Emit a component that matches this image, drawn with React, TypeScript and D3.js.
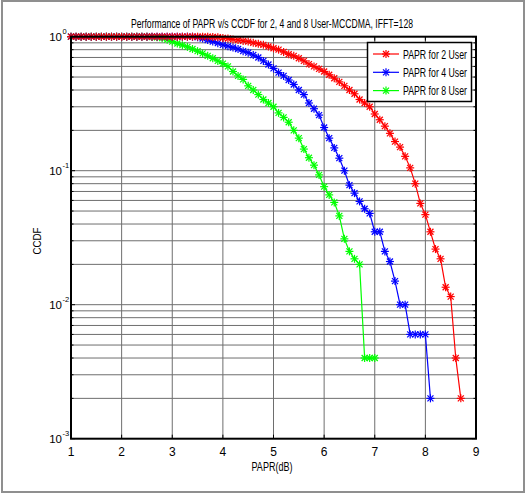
import React, { useLayoutEffect, useRef, useState } from "react";
import * as d3 from "d3";

const W = 528;
const H = 494;

const titleText = "Performance of PAPR v/s CCDF for 2, 4 and 8 User-MCCDMA, IFFT=128";
const xLabel = "PAPR(dB)";
const yLabel = "CCDF";
const xTicks = [1, 2, 3, 4, 5, 6, 7, 8, 9];
const yDecades = [0, -1, -2, -3];

const paprDb = [
  1.0, 1.1, 1.2, 1.3, 1.4, 1.5, 1.6, 1.7, 1.8, 1.9,
  2.0, 2.1, 2.2, 2.3, 2.4, 2.5, 2.6, 2.7, 2.8, 2.9,
  3.0, 3.1, 3.2, 3.3, 3.4, 3.5, 3.6, 3.7, 3.8, 3.9,
  4.0, 4.1, 4.2, 4.3, 4.4, 4.5, 4.6, 4.7, 4.8, 4.9,
  5.0, 5.1, 5.2, 5.3, 5.4, 5.5, 5.6, 5.7, 5.8, 5.9,
  6.0, 6.1, 6.2, 6.3, 6.4, 6.5, 6.6, 6.7, 6.8, 6.9,
  7.0, 7.1, 7.2, 7.3, 7.4, 7.5, 7.6, 7.7, 7.8, 7.9,
  8.0, 8.1, 8.2, 8.3, 8.4, 8.5, 8.6, 8.7,
];

const ccdf2User = [
  1, 1, 1, 1, 1, 1, 1, 1, 1, 1,
  1, 1, 1, 1, 1, 1, 1, 1, 1, 1,
  1, 1, 1, 1, 1, 1, 1, 1, 0.995, 0.99,
  0.98, 0.97, 0.955, 0.945, 0.93, 0.92, 0.9, 0.885, 0.87, 0.845,
  0.82, 0.8, 0.77, 0.74, 0.72, 0.69, 0.66, 0.625, 0.6, 0.575,
  0.55, 0.52, 0.49, 0.46, 0.43, 0.4, 0.375, 0.34, 0.32, 0.3,
  0.265, 0.24, 0.215, 0.19, 0.165, 0.15, 0.128, 0.105, 0.08, 0.057,
  0.047, 0.035, 0.026, 0.022, 0.0135, 0.0115, 0.004, 0.002,
];

const ccdf4User = [
  1, 1, 1, 1, 1, 1, 1, 1, 1, 1,
  1, 1, 1, 1, 1, 1, 1, 1, 1, 1,
  1, 1, 1, 1, 1, 0.99, 0.97, 0.945, 0.92, 0.895,
  0.87, 0.85, 0.83, 0.81, 0.78, 0.76, 0.73, 0.7, 0.66, 0.62,
  0.58, 0.54, 0.51, 0.475, 0.44, 0.4, 0.37, 0.32, 0.29, 0.26,
  0.21, 0.175, 0.148, 0.124, 0.1, 0.078, 0.068, 0.059, 0.052, 0.048,
  0.035, 0.035, 0.025, 0.021, 0.015, 0.01, 0.01, 0.006, 0.006, 0.006,
  0.006, 0.002,
];

const ccdf8User = [
  1, 1, 1, 1, 1, 1, 1, 1, 1, 1,
  1, 1, 1, 1, 1, 1, 0.995, 0.99, 0.975, 0.95,
  0.92, 0.89, 0.865, 0.84, 0.81, 0.78, 0.75, 0.72, 0.69, 0.66,
  0.63, 0.6, 0.55, 0.51, 0.48, 0.43, 0.4, 0.37, 0.34, 0.32,
  0.3, 0.27, 0.25, 0.23, 0.2, 0.175, 0.145, 0.125, 0.11, 0.093,
  0.076, 0.066, 0.058, 0.046, 0.031, 0.025, 0.022, 0.02, 0.004, 0.004,
  0.004,
];

const seriesNames = ["PAPR for 2 User", "PAPR for 4 User", "PAPR for 8 User"];
const seriesColors = ["#ff0000", "#0000ff", "#00ff00"];
const seriesValues = [ccdf2User, ccdf4User, ccdf8User];

const FONT = "'Liberation Sans', Arial, sans-serif";

const left = 71;
const right = 476;
const top = 36.7;
const bottom = 438.7;

function Star({ cx, cy, color, r = 4 }: { cx: number; cy: number; color: string; r?: number }) {
  const d = r * 0.75;
  return (
    <g stroke={color} strokeWidth={1.2}>
      <line x1={cx - r} y1={cy} x2={cx + r} y2={cy} />
      <line x1={cx} y1={cy - r} x2={cx} y2={cy + r} />
      <line x1={cx - d} y1={cy - d} x2={cx + d} y2={cy + d} />
      <line x1={cx - d} y1={cy + d} x2={cx + d} y2={cy - d} />
    </g>
  );
}

// Text horizontally condensed to a target width by a measured scale transform
function NarrowText({
  x,
  y,
  width,
  fontSize,
  anchor = "start",
  rotate = 0,
  children,
}: {
  x: number;
  y: number;
  width: number;
  fontSize: number;
  anchor?: "start" | "middle" | "end";
  rotate?: number;
  children: string;
}) {
  const ref = useRef<SVGTextElement>(null);
  const [s, setS] = useState(0.82);
  useLayoutEffect(() => {
    if (ref.current) {
      const len = ref.current.getComputedTextLength();
      if (len > 0) setS(width / len);
    }
  }, [width, children, fontSize]);
  return (
    <g transform={`translate(${x},${y}) rotate(${rotate}) scale(${s},1)`}>
      <text ref={ref} x={0} y={0} fontSize={fontSize} textAnchor={anchor} fill="#000">
        {children}
      </text>
    </g>
  );
}

export default function App() {
  const x = d3.scaleLinear().domain([1, 9]).range([left, right]);
  const y = d3.scaleLog().domain([1e-3, 1]).range([bottom, top]);

  const minorVals: number[] = [];
  for (let e = -3; e < 0; e++) {
    for (let m = 2; m <= 9; m++) minorVals.push(m * Math.pow(10, e));
  }
  const majorVals = yDecades.map((e) => Math.pow(10, e));

  const line = d3
    .line<[number, number]>()
    .x((d) => x(d[0]))
    .y((d) => y(d[1]));

  const gridColor = "#6e6e6e";

  return (
    <svg
      width={W}
      height={H}
      style={{ position: "absolute", left: 0, top: 0, background: "#fff" }}
      fontFamily={FONT}
    >
      <rect x={0} y={0} width={W} height={H} fill="#fff" />
      <rect x={2} y={1} width={522} height={491} fill="none" stroke="#8f8f8f" strokeWidth={2} />

      {/* grid */}
      <g stroke={gridColor} strokeWidth={1}>
        {xTicks.slice(1, -1).map((t) => (
          <line key={"gx" + t} x1={x(t)} x2={x(t)} y1={top} y2={bottom} />
        ))}
        {[...majorVals.slice(1, -1), ...minorVals].map((v, i) => (
          <line key={"gy" + i} x1={left} x2={right} y1={y(v)} y2={y(v)} />
        ))}
      </g>

      {/* ticks */}
      <g stroke="#000" strokeWidth={1}>
        {xTicks.map((t) => (
          <g key={"tx" + t}>
            <line x1={x(t)} x2={x(t)} y1={bottom} y2={bottom - 4} />
            <line x1={x(t)} x2={x(t)} y1={top} y2={top + 4} />
          </g>
        ))}
        {majorVals.map((v, i) => (
          <g key={"tym" + i}>
            <line x1={left} x2={left + 4} y1={y(v)} y2={y(v)} />
            <line x1={right} x2={right - 4} y1={y(v)} y2={y(v)} />
          </g>
        ))}
        {minorVals.map((v, i) => (
          <g key={"tyn" + i}>
            <line x1={left} x2={left + 2.5} y1={y(v)} y2={y(v)} />
            <line x1={right} x2={right - 2.5} y1={y(v)} y2={y(v)} />
          </g>
        ))}
      </g>

      {/* series */}
      {seriesValues.map((vals, si) => {
        const pts: [number, number][] = vals.map((v, i) => [paprDb[i], v]);
        return (
          <g key={"s" + si}>
            <path d={line(pts) || ""} fill="none" stroke={seriesColors[si]} strokeWidth={1.2} />
            {pts.map((p, i) => (
              <Star key={i} cx={x(p[0])} cy={y(p[1])} color={seriesColors[si]} />
            ))}
          </g>
        );
      }).reverse()}

      {/* axes box */}
      <rect
        x={left}
        y={top}
        width={right - left}
        height={bottom - top}
        fill="none"
        stroke="#000"
        strokeWidth={2}
      />

      {/* x tick labels */}
      {xTicks.map((t) => (
        <text key={"lx" + t} x={x(t)} y={455.5} fontSize={12} textAnchor="middle" fill="#000">
          {t}
        </text>
      ))}

      {/* y tick labels */}
      {yDecades.map((e) => (
        <g key={"ly" + e}>
          <text x={62} y={y(Math.pow(10, e)) + 4.5} fontSize={11.5} textAnchor="end" fill="#000">
            10
          </text>
          <text x={62.5} y={y(Math.pow(10, e)) - 3} fontSize={7.5} textAnchor="start" fill="#000">
            {e}
          </text>
        </g>
      ))}

      {/* labels */}
      <NarrowText x={272} y={471} width={41} fontSize={12} anchor="middle">
        {xLabel}
      </NarrowText>
      <NarrowText x={41} y={241} width={27} fontSize={11.5} anchor="middle" rotate={-90}>
        {yLabel}
      </NarrowText>
      <NarrowText x={272} y={27.5} width={282} fontSize={12.5} anchor="middle">
        {titleText}
      </NarrowText>

      {/* legend */}
      <g>
        <rect x={367.5} y={42.5} width={104} height={59} fill="#fff" stroke="#000" strokeWidth={1.5} />
        {seriesNames.map((name, i) => {
          const ly = 54 + i * 18.3;
          return (
            <g key={"lg" + i}>
              <line x1={373} x2={399} y1={ly} y2={ly} stroke={seriesColors[i]} strokeWidth={1.2} />
              <Star cx={386} cy={ly} color={seriesColors[i]} />
              <NarrowText x={403} y={ly + 4.5} width={64} fontSize={12}>
                {name}
              </NarrowText>
            </g>
          );
        })}
      </g>
    </svg>
  );
}
